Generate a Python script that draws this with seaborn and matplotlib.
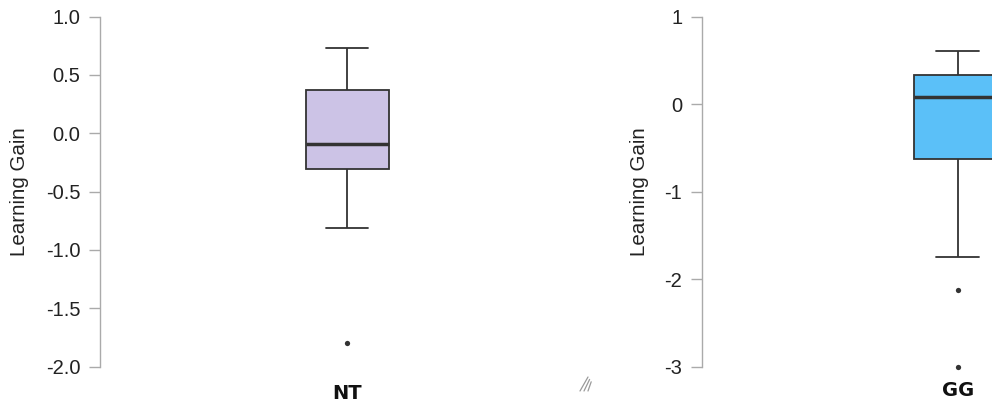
import matplotlib
matplotlib.use("Agg")
import matplotlib.pyplot as plt
from matplotlib.lines import Line2D
import pandas as pd
import seaborn as sns

# Learning-gain samples per condition
nt_gain = [-1.80, -0.813, -0.305, -0.305, -0.094, 0.372, 0.372, 0.73, 0.73]
gg_gain = [-3.00, -2.12, -1.75, -0.63, -0.63, 0.086, 0.086, 0.086,
           0.33, 0.33, 0.33, 0.61, 0.61]

nt_ticks = [-2.0, -1.5, -1.0, -0.5, 0.0, 0.5, 1.0]
nt_ticklabels = ["-2.0", "-1.5", "-1.0", "-0.5", "0.0", "0.5", "1.0"]
gg_ticks = [-3, -2, -1, 0, 1]
gg_ticklabels = ["-3", "-2", "-1", "0", "1"]

nt_color = "#CCC3E6"
gg_color = "#5BC0F8"

sns.set_theme(style="white")
plt.rcParams["font.family"] = ["Liberation Sans", "DejaVu Sans"]

W, H = 992, 407
fig = plt.figure(figsize=(W / 100, H / 100), dpi=100)


def px_axes(left, top, width, height):
    return fig.add_axes([left / W, (H - top - height) / H, width / W, height / H])


edge = "#333333"
axis_gray = "#AAAAAA"


def panel(ax, label, values, color, ticks, ticklabels, ylim, xlim, ylabel_x):
    df = pd.DataFrame({"group": [label] * len(values), "gain": values})
    sns.boxplot(data=df, x="group", y="gain", ax=ax, color=color,
                saturation=1, width=0.5, linecolor=edge, linewidth=1.3,
                medianprops={"linewidth": 2.5, "color": edge},
                flierprops={"marker": "o", "markersize": 3.8,
                            "markerfacecolor": edge, "markeredgewidth": 0})
    ax.set_xlim(*xlim)
    ax.set_ylim(*ylim)
    ax.set_yticks(ticks)
    ax.set_yticklabels(ticklabels)
    for s in ("top", "right", "bottom"):
        ax.spines[s].set_visible(False)
    ax.spines["left"].set_bounds(ticks[0], ticks[-1])
    ax.spines["left"].set_color(axis_gray)
    ax.spines["left"].set_linewidth(1.0)
    ax.tick_params(axis="y", length=8, width=1.0, color=axis_gray, pad=6,
                   labelsize=14.5, labelcolor="#222222", left=True)
    ax.tick_params(axis="x", length=0, pad=4, labelsize=14, labelcolor="#111111")
    for t in ax.get_xticklabels():
        t.set_fontweight("bold")
        t.set_family(["DejaVu Sans"])
    ax.set_xlabel("")
    ax.set_ylabel("Learning Gain", fontsize=14.8, color="#222222")
    ax.yaxis.set_label_coords(ylabel_x, 0.5)
    ax.patch.set_alpha(0)


ax1 = px_axes(100, 5.0, 496, 373.3)
panel(ax1, "NT", nt_gain, nt_color, nt_ticks, nt_ticklabels,
      (-2.1, 1.1), (-1.488, 1.5), -0.143)

ax2 = px_axes(701.7, 7.95, 516.5, 367.5)
panel(ax2, "GG", gg_gain, gg_color, gg_ticks, gg_ticklabels,
      (-3.1, 1.1), (-1.475, 1.5), -0.103)

# small resize grip between the panels
for off in (0, 4, 8):
    fig.add_artist(Line2D([(580 + off) / W, (588 + off * 0.4) / W],
                          [(H - 391) / H, (H - 377 - off * 0.6) / H],
                          color="#9A9A9A", linewidth=0.9))

fig.savefig("out.png", dpi=100)
